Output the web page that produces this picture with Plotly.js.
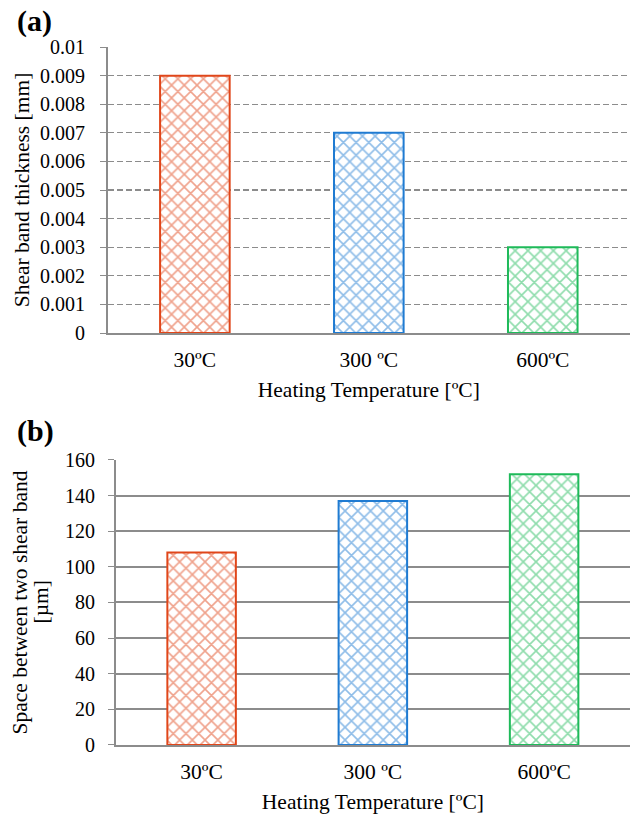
<!DOCTYPE html>
<html>
<head>
<meta charset="utf-8">
<script src="https://cdn.plot.ly/plotly-3.0.1.min.js"></script>
<style>html,body{margin:0;padding:0;background:#fff;}#chart{width:631px;height:815px;}</style>
</head>
<body>
<div id="chart"></div>
<script>
const categories = ["30ºC", "300 ºC", "600ºC"];
const thickness = [0.009, 0.007, 0.003];
const spacing = [108, 137, 152];
const barColors = ["#E0461A", "#1F7BD2", "#1FBA5A"];
const thickTickVals = [0, 0.001, 0.002, 0.003, 0.004, 0.005, 0.006, 0.007, 0.008, 0.009, 0.01];
const thickTickText = ["0", "0.001", "0.002", "0.003", "0.004", "0.005", "0.006", "0.007", "0.008", "0.009", "0.01"];
const spaceTickVals = [0, 20, 40, 60, 80, 100, 120, 140, 160];

const FAM = "Liberation Serif";
const titleFont = {family: FAM, size: 21.5, color: "#000"};
const xTickFont = {family: FAM, size: 21.5, color: "#000"};
const yTickFont = {family: FAM, size: 20, color: "#000"};

function barTrace(y, xa, ya) {
  return {
    type: "bar", x: categories, y: y, xaxis: xa, yaxis: ya, width: 0.4,
    marker: {
      color: "white",
      line: {color: barColors, width: 2},
      pattern: {shape: "x", fgcolor: barColors, bgcolor: "white", fillmode: "overlay", size: 9, solidity: 0.33}
    },
    hoverinfo: "skip", showlegend: false
  };
}

const data = [barTrace(thickness, "x", "y"), barTrace(spacing, "x2", "y2")];

const axisCommon = {linecolor: "#8c8c8c", linewidth: 2, showline: true, zeroline: false, fixedrange: true, automargin: false};

const layout = {
  width: 631, height: 815,
  margin: {l: 0, r: 0, t: 0, b: 0},
  paper_bgcolor: "white", plot_bgcolor: "white",
  font: titleFont,
  showlegend: false,
  xaxis: Object.assign({}, axisCommon, {domain: [0.171, 0.998], anchor: "y", showgrid: false, ticks: "",
    tickfont: xTickFont, ticklabelstandoff: 6,
    title: {text: "Heating Temperature [ºC]", font: titleFont, standoff: 11}}),
  yaxis: Object.assign({}, axisCommon, {domain: [0.5914, 0.9423], anchor: "x", range: [0, 0.01],
    tickvals: thickTickVals, ticktext: thickTickText, ticks: "outside", ticklen: 6, tickcolor: "#8c8c8c", tickwidth: 1,
    tickfont: yTickFont, ticklabelstandoff: 11,
    showgrid: true, gridcolor: "#8c8c8c", gridwidth: 1.3, griddash: "6px,3px",
    title: {text: "Shear band thickness [mm]", font: titleFont, standoff: 4}}),
  xaxis2: Object.assign({}, axisCommon, {domain: [0.1838, 0.998], anchor: "y2", showgrid: false, ticks: "",
    tickfont: xTickFont, ticklabelstandoff: 6,
    title: {text: "Heating Temperature [ºC]", font: titleFont, standoff: 11}}),
  yaxis2: Object.assign({}, axisCommon, {domain: [0.0859, 0.4356], anchor: "x2", range: [0, 160],
    tickvals: spaceTickVals, ticks: "outside", ticklen: 6, tickcolor: "#8c8c8c", tickwidth: 1,
    tickfont: yTickFont, ticklabelstandoff: 9,
    showgrid: true, gridcolor: "#8c8c8c", gridwidth: 2,
    title: {text: "Space between two shear band", font: titleFont, standoff: 31}}),
  annotations: [
    {text: "[µm]", xref: "paper", yref: "paper", x: 41 / 631, y: (0.0859 + 0.4356) / 2, xanchor: "center", yanchor: "middle",
      textangle: -90, showarrow: false, font: titleFont},
    {text: "<b>(a)</b>", xref: "paper", yref: "paper", x: 0.024, y: 0.997, xanchor: "left", yanchor: "top", showarrow: false,
      font: {family: FAM, size: 30, color: "#000"}},
    {text: "<b>(b)</b>", xref: "paper", yref: "paper", x: 0.024, y: 0.494, xanchor: "left", yanchor: "top", showarrow: false,
      font: {family: FAM, size: 30, color: "#000"}}
  ]
};

Plotly.newPlot("chart", data, layout, {displayModeBar: false, staticPlot: true});
</script>
</body>
</html>
